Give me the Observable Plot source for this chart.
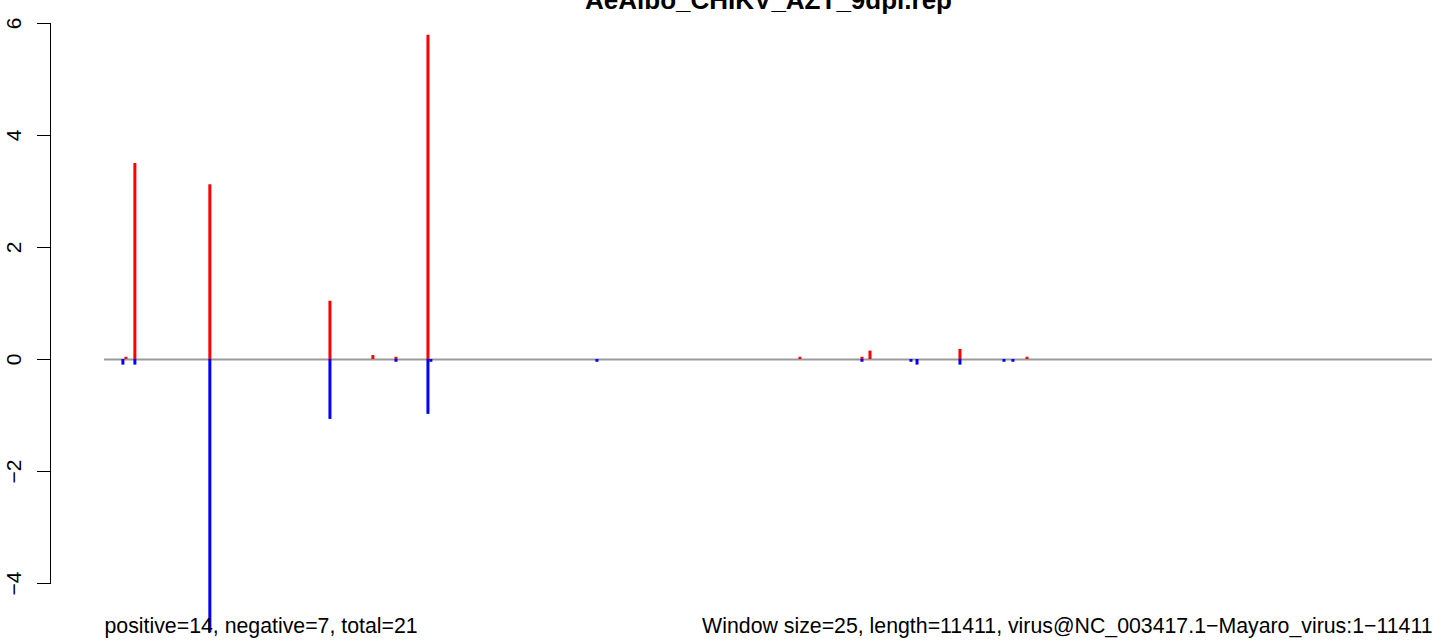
<!DOCTYPE html>
<html>
<head>
<meta charset="utf-8">
<script src="https://cdn.jsdelivr.net/npm/d3@7"></script>
<script src="https://cdn.jsdelivr.net/npm/@observablehq/plot@0.6"></script>
<style>
  html, body { margin: 0; padding: 0; background: #fff; }
  svg { display: block; }
</style>
</head>
<body>
<div id="chart"></div>
<script>
// ---- data ----
const title = "AeAlbo_CHIKV_AZT_9dpi.rep";
const leftNote = "positive=14, negative=7, total=21";
const rightNote = "Window size=25, length=11411, virus@NC_003417.1\u2212Mayaro_virus:1\u221211411";
const seqStart = 1;
const seqEnd = 11411;
const yTicks = [-4, -2, 0, 2, 4, 6];
const yTickLabels = ["\u22124", "\u22122", "0", "2", "4", "6"];

const posX = [185, 262, 906, 1938, 2307, 2505, 2780, 5976, 6509, 6578, 7351, 7927];
const posY = [0.04, 3.50, 3.12, 1.04, 0.07, 0.04, 5.79, 0.04, 0.04, 0.15, 0.18, 0.04];

const negX = [159, 262, 906, 1938, 2505, 2780, 2805, 4232, 6509, 6930, 6982, 7351, 7729, 7806];
const negY = [-0.10, -0.10, -4.88, -1.07, -0.05, -0.98, -0.05, -0.05, -0.05, -0.05, -0.10, -0.10, -0.05, -0.05];

// ---- build ----
const pos = posX.map((x, i) => ({x, y: posY[i]}));
const neg = negX.map((x, i) => ({x, y: negY[i]}));
const mid = (seqStart + seqEnd) / 2;

const chart = Plot.plot({
  width: 1444,
  height: 641,
  marginTop: 23,
  marginBottom: 58,
  marginLeft: 50,
  marginRight: 0,
  style: {fontFamily: "'Liberation Sans', Arial, Helvetica, sans-serif", background: "#fff", color: "#000"},
  x: {domain: [seqStart, seqEnd], range: [104, 1432], axis: null},
  y: {domain: [-4, 6], axis: null},
  marks: [
    Plot.frame({anchor: "left", stroke: "#000", strokeWidth: 1}),
    Plot.axisY({
      ticks: yTicks,
      tickFormat: (d) => yTickLabels[yTicks.indexOf(d)],
      tickSize: 13,
      tickPadding: 17,
      tickRotate: -90,
      fontSize: 21,
      stroke: "#000",
      strokeWidth: 1,
      label: null
    }),
    Plot.ruleY([0], {x1: seqStart, x2: seqEnd, stroke: "#999999", strokeWidth: 1.8}),
    Plot.ruleX(pos, {x: "x", y1: 0, y2: "y", stroke: "#ff0000", strokeWidth: 3}),
    Plot.ruleX(neg, {x: "x", y1: 0, y2: "y", stroke: "#0000ff", strokeWidth: 3}),
    Plot.text([title], {x: mid, frameAnchor: "top", dy: -15, lineAnchor: "bottom", text: (d) => d, fontSize: 26, fontWeight: "bold", fill: "#000"}),
    Plot.text([leftNote], {x: seqStart, frameAnchor: "bottom", dy: 49, lineAnchor: "bottom", textAnchor: "start", text: (d) => d, fontSize: 21.3, fill: "#000"}),
    Plot.text([rightNote], {x: seqEnd, frameAnchor: "bottom", dy: 49, lineAnchor: "bottom", textAnchor: "end", text: (d) => d, fontSize: 21.3, fill: "#000"})
  ]
});
document.getElementById("chart").appendChild(chart);
</script>
</body>
</html>
